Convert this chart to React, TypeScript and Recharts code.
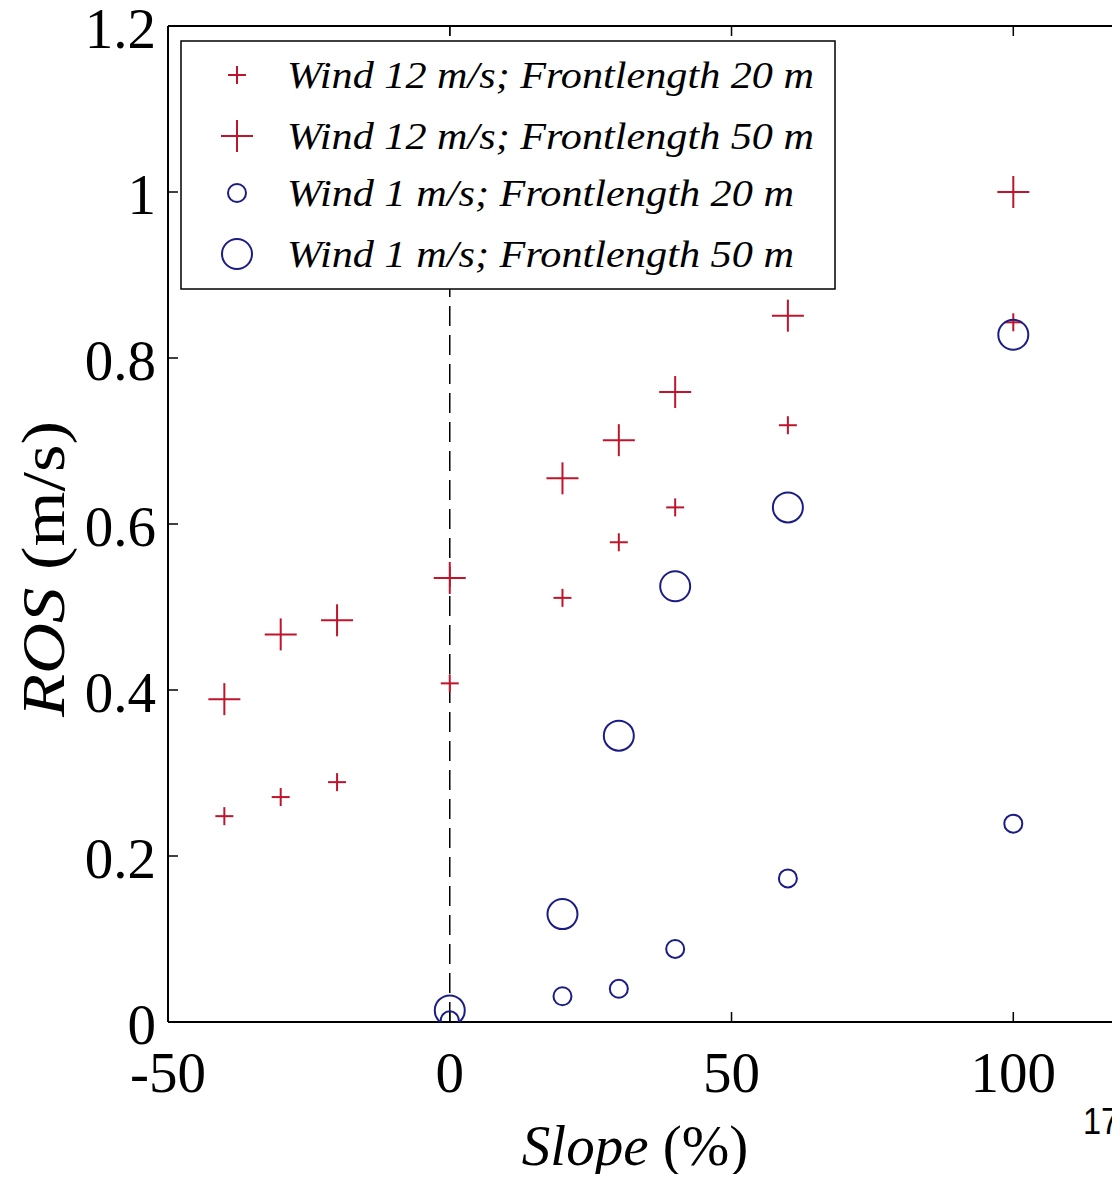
import {
  ScatterChart,
  Scatter,
  XAxis,
  YAxis,
  Legend,
  ReferenceLine,
} from 'recharts';

// slope (%) values for each group of runs
const slopesWind12 = [-40, -30, -20, 0, 20, 30, 40, 60, 100];
const slopesWind1 = [0, 20, 30, 40, 60, 100];

// rate of spread (m/s)
const rosWind12Front20 = [0.248, 0.271, 0.289, 0.408, 0.511, 0.578, 0.62, 0.719, 0.843];
const rosWind12Front50 = [0.389, 0.467, 0.484, 0.535, 0.655, 0.701, 0.759, 0.851, 1.0];
const rosWind1Front20 = [0.002, 0.031, 0.04, 0.088, 0.173, 0.239];
const rosWind1Front50 = [0.014, 0.13, 0.345, 0.525, 0.62, 0.828];

const xTicks = [-50, 0, 50, 100];
const yTicks = [0, 0.2, 0.4, 0.6, 0.8, 1, 1.2];
const yTickLabels = ['0', '0.2', '0.4', '0.6', '0.8', '1', '1.2'];

const RED = '#c0142c';
const BLUE = '#1c1c86';
const SERIF = '"Liberation Serif", "Times New Roman", serif';

const toPoints = (xs: number[], ys: number[]) => xs.map((x, i) => ({ x, y: ys[i] }));

const series = [
  { name: 'Wind 12 m/s; Frontlength 20 m', data: toPoints(slopesWind12, rosWind12Front20), kind: 'plus', size: 9, color: RED, textLen: 527 },
  { name: 'Wind 12 m/s; Frontlength 50 m', data: toPoints(slopesWind12, rosWind12Front50), kind: 'plus', size: 16, color: RED, textLen: 527 },
  { name: 'Wind 1 m/s; Frontlength 20 m', data: toPoints(slopesWind1, rosWind1Front20), kind: 'circle', size: 9, color: BLUE, textLen: 507 },
  { name: 'Wind 1 m/s; Frontlength 50 m', data: toPoints(slopesWind1, rosWind1Front50), kind: 'circle', size: 15, color: BLUE, textLen: 507 },
];

const Marker = ({ cx, cy, kind, size, color }: any) => {
  if (cx == null || cy == null) return null;
  if (kind === 'plus') {
    return (
      <g stroke={color} strokeWidth={2}>
        <line x1={cx - size} y1={cy} x2={cx + size} y2={cy} />
        <line x1={cx} y1={cy - size} x2={cx} y2={cy + size} />
      </g>
    );
  }
  return <circle cx={cx} cy={cy} r={size} fill="none" stroke={color} strokeWidth={2} />;
};

// ticks point inward, labels sit outside the box (Matlab style)
const BottomTick = ({ x, y, payload }: any) => (
  <g>
    <line x1={x} y1={y} x2={x} y2={y - 10} stroke="#000" strokeWidth={1.5} />
    <text x={x} y={y + 70} textAnchor="middle" fontFamily={SERIF} fontSize={57} fill="#000">
      {payload.value}
    </text>
  </g>
);

const LeftTick = ({ x, y, payload, index }: any) => (
  <g>
    <line x1={x} y1={y} x2={x + 10} y2={y} stroke="#000" strokeWidth={1.5} />
    <text x={x - 12} y={y + 22} textAnchor="end" fontFamily={SERIF} fontSize={57} fill="#000">
      {yTickLabels[index] ?? payload.value}
    </text>
  </g>
);

const TopTick = ({ x, y }: any) => (
  <line x1={x} y1={y} x2={x} y2={y + 10} stroke="#000" strokeWidth={1.5} />
);

const RightTick = ({ x, y }: any) => (
  <line x1={x} y1={y} x2={x - 10} y2={y} stroke="#000" strokeWidth={1.5} />
);

const SlopeLabel = ({ viewBox }: any) => {
  const cx = viewBox.x + viewBox.width / 2 - 12;
  return (
    <text x={cx} y={1165} textAnchor="middle" fontFamily={SERIF} fontSize={57} fill="#000">
      <tspan fontStyle="italic">Slope</tspan>
      <tspan> (%)</tspan>
    </text>
  );
};

const RosLabel = () => {
  const cy = 569;
  return (
    <text
      x={64}
      y={cy}
      transform={`rotate(-90 64 ${cy})`}
      textAnchor="middle"
      fontFamily={SERIF}
      fontSize={62}
      fill="#000"
      textLength={296}
      lengthAdjust="spacingAndGlyphs"
    >
      <tspan fontStyle="italic">ROS</tspan>
      <tspan> (m/s)</tspan>
    </text>
  );
};

const LegendBox = () => {
  const rows = [35, 96, 153, 214];
  return (
    <svg width={656} height={250} style={{ display: 'block' }}>
      <rect x={1} y={1} width={654} height={248} fill="#fff" stroke="#000" strokeWidth={1.5} />
      {series.map((s, i) => (
        <g key={s.name}>
          <Marker cx={57} cy={rows[i]} kind={s.kind} size={s.size} color={s.color} />
          <text
            x={107}
            y={rows[i] + 13}
            fontFamily={SERIF}
            fontStyle="italic"
            fontSize={38}
            fill="#000"
            textLength={s.textLen}
            lengthAdjust="spacingAndGlyphs"
          >
            {s.name}
          </text>
        </g>
      ))}
    </svg>
  );
};

const axisLine = { stroke: '#000', strokeWidth: 2 };

export default function App() {
  return (
    <div style={{ margin: -8, width: 1120, height: 1182, overflow: 'hidden', position: 'relative', background: '#fff' }}>
      <ScatterChart
        width={1140}
        height={1182}
        margin={{ top: 25, right: 13, bottom: 100, left: 108 }}
      >
        <XAxis
          type="number"
          dataKey="x"
          domain={[-50, 120]}
          ticks={xTicks}
          allowDataOverflow
          height={60}
          tickSize={0}
          tickMargin={0}
          tickLine={false}
          axisLine={axisLine}
          tick={<BottomTick />}
          interval={0}
          label={<SlopeLabel />}
        />
        <XAxis
          xAxisId="top"
          orientation="top"
          type="number"
          dataKey="x"
          domain={[-50, 120]}
          ticks={xTicks}
          allowDataOverflow
          height={1}
          tickSize={0}
          tickMargin={0}
          tickLine={false}
          axisLine={axisLine}
          tick={<TopTick />}
          interval={0}
        />
        <YAxis
          type="number"
          dataKey="y"
          domain={[0, 1.2]}
          ticks={yTicks}
          allowDataOverflow
          width={60}
          tickSize={0}
          tickMargin={0}
          tickLine={false}
          axisLine={axisLine}
          tick={<LeftTick />}
          interval={0}
          label={<RosLabel />}
        />
        <YAxis
          yAxisId="right"
          orientation="right"
          type="number"
          dataKey="y"
          domain={[0, 1.2]}
          ticks={yTicks}
          allowDataOverflow
          width={1}
          tickSize={0}
          tickMargin={0}
          tickLine={false}
          axisLine={axisLine}
          tick={<RightTick />}
          interval={0}
        />
        <ReferenceLine x={0} stroke="#000" strokeWidth={1.5} strokeDasharray="20 9" />
        {series.map((s) => (
          <Scatter
            key={s.name}
            name={s.name}
            data={s.data}
            isAnimationActive={false}
            shape={(p: any) => <Marker cx={p.cx} cy={p.cy} kind={s.kind} size={s.size} color={s.color} />}
          />
        ))}
        <Legend
          layout="vertical"
          align="center"
          verticalAlign="middle"
          content={<LegendBox />}
          wrapperStyle={{ left: 180, top: 40, width: 656, height: 250 }}
        />
      </ScatterChart>
      <div
        style={{
          position: 'absolute',
          left: 1083,
          top: 1103,
          fontFamily: '"Liberation Sans", Arial, sans-serif',
          fontSize: 37,
          color: '#000',
          lineHeight: 1,
          transform: 'scaleX(0.88)',
          transformOrigin: 'left top',
        }}
      >
        17
      </div>
    </div>
  );
}
